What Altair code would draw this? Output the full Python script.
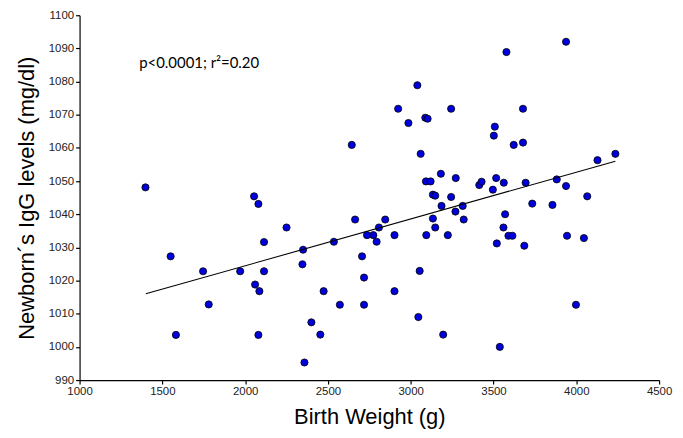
import altair as alt
import pandas as pd

# Birth weight (g) and newborn IgG (mg/dl)
birth_weight = [1398, 1550, 1582, 1746, 1780, 1970, 2054, 2060, 2080, 2080,
                2086, 2114, 2114, 2250, 2346, 2350, 2358, 2400, 2454, 2474,
                2536, 2572, 2644, 2664, 2706, 2718, 2718, 2736, 2774, 2794,
                2808, 2846, 2902, 2902, 2924, 2986, 3040, 3046, 3054, 3060,
                3088, 3102, 3092, 3120, 3094, 3134, 3148, 3134, 3148, 3182,
                3186, 3196, 3224, 3244, 3244, 3270, 3272, 3314, 3320, 3414,
                3428, 3496, 3502, 3508, 3516, 3520, 3538, 3560, 3562, 3570,
                3578, 3590, 3614, 3622, 3678, 3678, 3686, 3694, 3734, 3856,
                3882, 3938, 3938, 3944, 3998, 4046, 4066, 4128, 4236]
igg = [1048.1, 1027.3, 1003.6, 1022.8, 1012.8, 1022.8, 1045.4, 1018.8, 1043.1, 1003.6,
       1016.8, 1031.6, 1022.8, 1036.0, 1024.9, 1029.3, 995.3, 1007.4, 1003.7, 1016.8,
       1031.7, 1012.7, 1060.9, 1038.4, 1027.3, 1020.9, 1012.7, 1033.7, 1033.7, 1031.7,
       1036.0, 1038.4, 1033.7, 1016.8, 1071.8, 1067.5, 1078.9, 1009.0, 1022.9, 1058.2,
       1069.1, 1068.8, 1049.9, 1049.9, 1033.7, 1045.9, 1045.6, 1038.7, 1036.0, 1052.2,
       1042.5, 1003.7, 1033.7, 1071.8, 1045.2, 1040.8, 1050.9, 1042.5, 1038.4, 1048.8,
       1049.8, 1047.4, 1063.7, 1066.4, 1050.9, 1031.2, 1000.0, 1036.0, 1049.5, 1040.0,
       1088.9, 1033.5, 1033.5, 1060.9, 1071.8, 1061.6, 1030.5, 1049.5, 1043.2, 1042.8,
       1050.5, 1092.0, 1048.5, 1033.5, 1012.7, 1032.8, 1045.4, 1056.3, 1058.2]

# Regression line end points
fit_x = [1400, 4236]
fit_y = [1016.0, 1056.0]

x_ticks = [1000, 1500, 2000, 2500, 3000, 3500, 4000, 4500]
y_ticks = [990, 1000, 1010, 1020, 1030, 1040, 1050, 1060, 1070, 1080, 1090, 1100]

annotation = ["p<0.0001; r²=0.20"]

pts = pd.DataFrame({"bw": birth_weight, "igg": igg})
fit = pd.DataFrame({"bw": fit_x, "igg": fit_y})
ann = pd.DataFrame({"label": annotation, "bw": [1360], "igg": [1085.6]})

xscale = alt.Scale(domain=[1000, 4500], nice=False, zero=False)
yscale = alt.Scale(domain=[990, 1100], nice=False, zero=False)

x_axis = alt.Axis(title="Birth Weight (g)", values=x_ticks, format="d",
                  labelPadding=2, titlePadding=9, labelFlush=False,
                  labelOverlap=False)
y_axis = alt.Axis(title="Newborn´s IgG levels (mg/dl)", values=y_ticks,
                  format="d", labelPadding=2, titlePadding=10,
                  labelFlush=False, labelOverlap=False)

x_enc = alt.X("bw:Q", scale=xscale, axis=x_axis)
y_enc = alt.Y("igg:Q", scale=yscale, axis=y_axis)

points = alt.Chart(pts).mark_point(
    filled=True, shape="circle", size=52, fill="#0000DD", stroke="black",
    strokeWidth=0.8, opacity=1
).encode(x=x_enc, y=y_enc)

line = alt.Chart(fit).mark_line(color="black", strokeWidth=1.1).encode(
    x=x_enc, y=y_enc
)

text = alt.Chart(ann).mark_text(
    align="left", baseline="middle", font="Lato", fontSize=15, color="black"
).encode(x=x_enc, y=y_enc, text="label:N")

chart = alt.layer(points, line, text).properties(
    width=583, height=367,
    background="white",
    autosize=alt.AutoSizeParams(type="none"),
    padding={"left": 72, "top": 6, "right": 16, "bottom": 56},
).configure_view(strokeWidth=0, stroke="transparent").configure_axis(
    grid=False, domainColor="black", tickColor="black", domainWidth=1.2,
    tickWidth=1.2, tickSize=4, labelColor="#222", labelFont="Liberation Sans",
    labelFontSize=11.5, titleFont="Liberation Sans", titleFontSize=22,
    titleFontWeight="normal", titleColor="black", labelOverlap=False,
    labelFlush=False,
)

chart.save("out.html", embed_options={"renderer": "svg", "actions": False})
